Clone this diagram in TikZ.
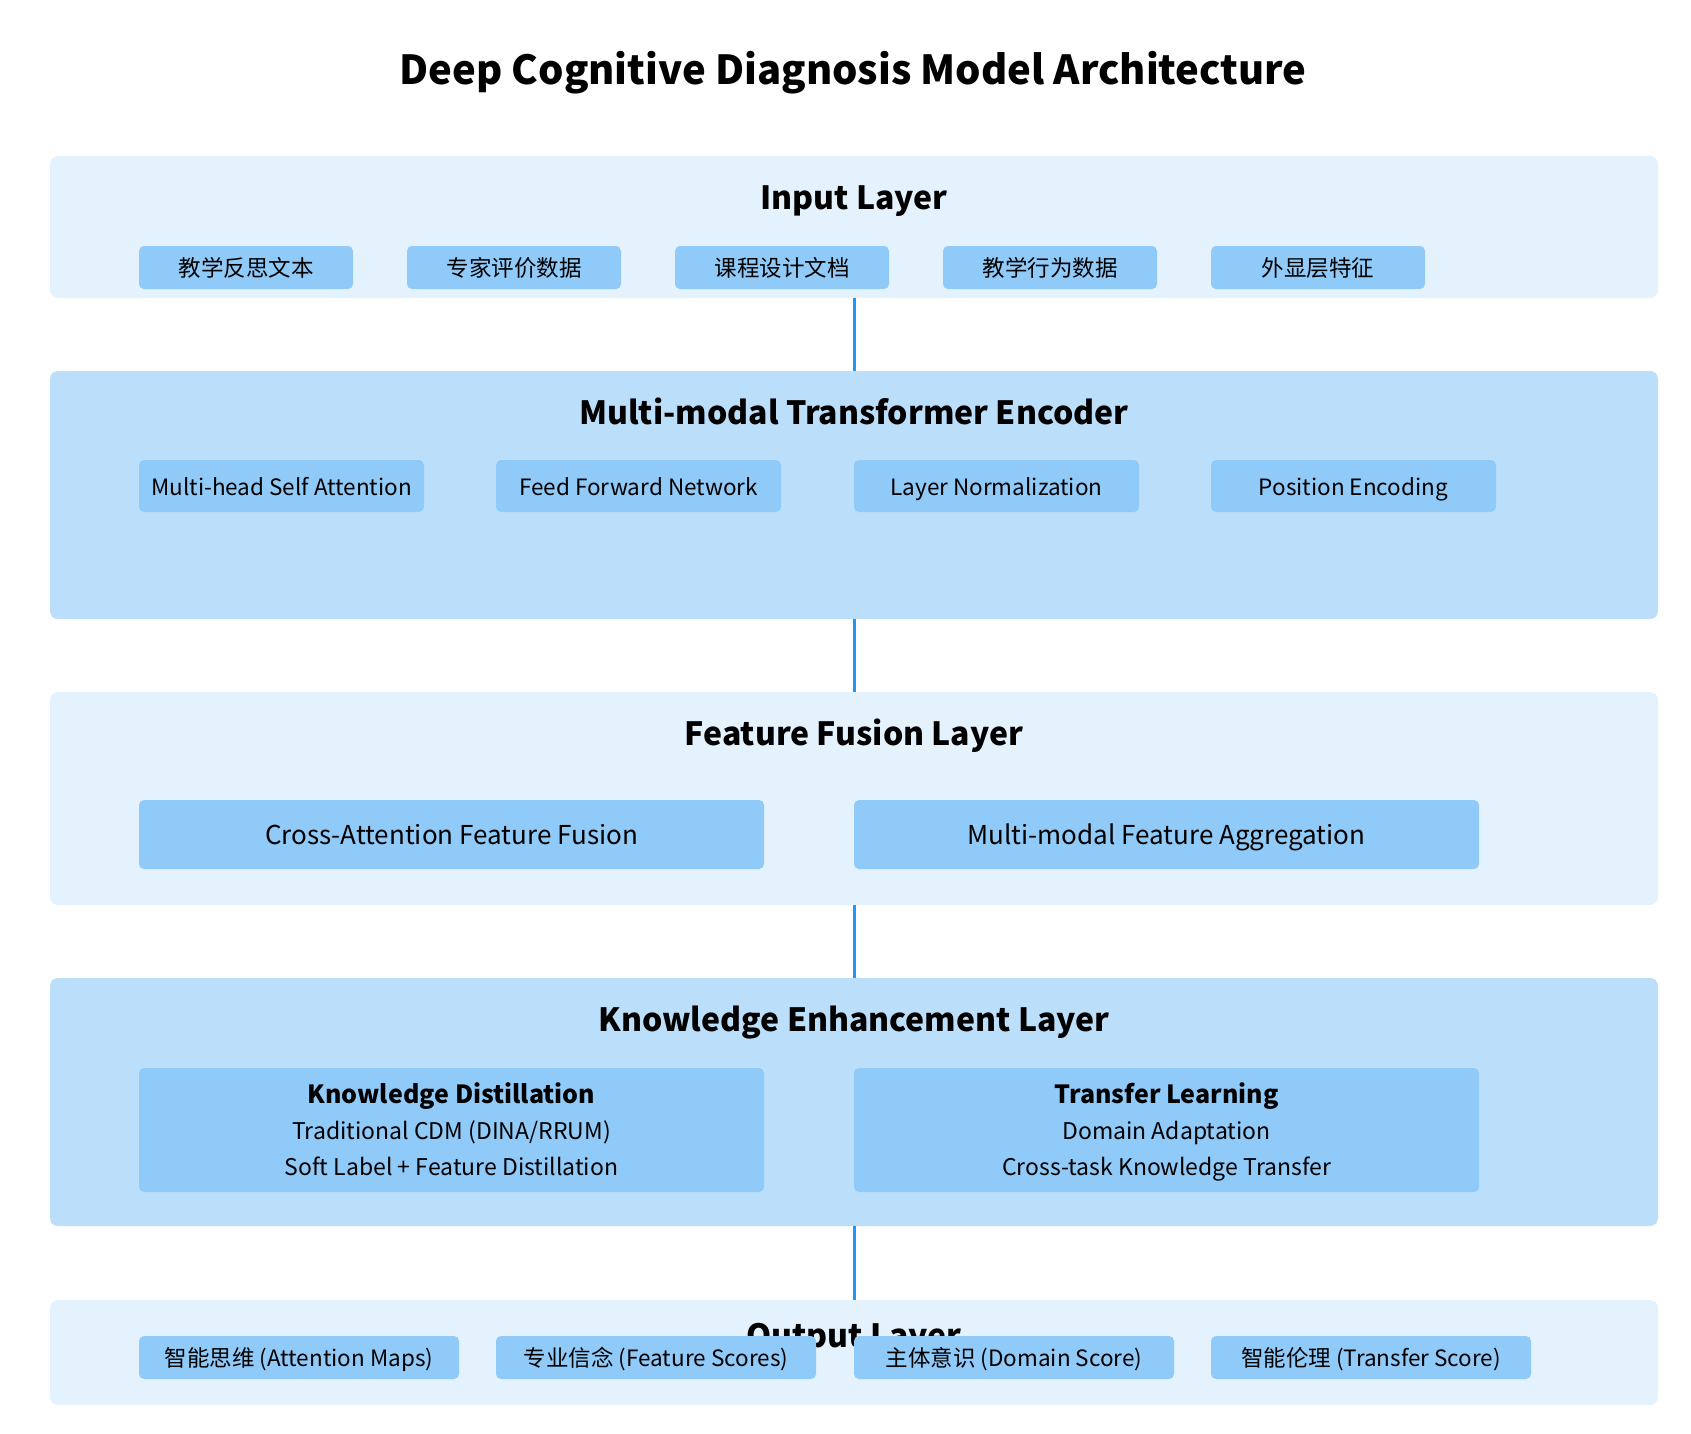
\documentclass[tikz,border=0pt]{standalone}
\usepackage{fontspec}
\setmainfont{Noto Sans CJK SC}
\usetikzlibrary{positioning}

\definecolor{paleblue}{HTML}{E3F2FD}
\definecolor{midblue}{HTML}{BBDEFB}
\definecolor{itemblue}{HTML}{90CAF9}
\definecolor{lineblue}{HTML}{2196F3}

\newcommand{\topstrut}{\rule{0pt}{30pt}}

\begin{document}
\begin{tikzpicture}[
    x=1pt, y=-1pt,
    layerpale/.style={fill=paleblue, rounded corners=8pt, minimum width=1608pt, inner sep=0pt},
    layermid/.style={fill=midblue, rounded corners=8pt, minimum width=1608pt, inner sep=0pt},
    layertitle/.style={font=\bfseries\fontsize{32}{38}\selectfont, inner sep=0pt, text height=23pt, text depth=0pt},
    itembox/.style={fill=itemblue, rounded corners=5pt, inner sep=0pt, font=\fontsize{22.5}{27}\selectfont},
    lineitem/.style={itembox, text height=19pt, text depth=1pt},
    wideitem/.style={lineitem, minimum width=625pt, font=\fontsize{26}{31}\selectfont, text height=21.5pt, text depth=2pt},
    stackitem/.style={itembox, minimum width=625pt, minimum height=124pt, align=center, font=\fontsize{23}{36}\selectfont},
    link/.style={draw=lineblue, line width=3pt}
]
\useasboundingbox (0,0) rectangle (1691,1434);

\node[font=\bfseries\fontsize{40}{48}\selectfont, inner sep=0pt, text height=29pt, text depth=0pt] (title) at (853,70) {Deep Cognitive Diagnosis Model Architecture};

% input layer
\node[layerpale, minimum height=142pt] (inputlayer) at (854,227) {};
\node[layertitle] (inputtitle) at (854,198) {Input Layer};
\node[lineitem, minimum width=214pt, minimum height=43pt] (in1) at (246,267.5) {教学反思文本};
\node[lineitem, minimum width=214pt, minimum height=43pt] (in2) at (514,267.5) {专家评价数据};
\node[lineitem, minimum width=214pt, minimum height=43pt] (in3) at (782,267.5) {课程设计文档};
\node[lineitem, minimum width=214pt, minimum height=43pt] (in4) at (1050,267.5) {教学行为数据};
\node[lineitem, minimum width=214pt, minimum height=43pt] (in5) at (1318,267.5) {外显层特征};

% transformer encoder
\node[layermid, minimum height=248pt] (encoder) at (854,495) {};
\node[layertitle] (encodertitle) at (854,413) {Multi-modal Transformer Encoder};
\node[lineitem, minimum width=285pt, minimum height=52pt] (enc1) at (281.5,486) {Multi-head Self Attention};
\node[lineitem, minimum width=285pt, minimum height=52pt] (enc2) at (638.5,486) {Feed Forward Network};
\node[lineitem, minimum width=285pt, minimum height=52pt] (enc3) at (996.5,486) {Layer Normalization};
\node[lineitem, minimum width=285pt, minimum height=52pt] (enc4) at (1353.5,486) {Position Encoding};

% feature fusion
\node[layerpale, minimum height=213pt] (fusion) at (854,798.5) {};
\node[layertitle] (fusiontitle) at (854,734) {Feature Fusion Layer};
\node[wideitem, minimum height=69pt] (fuse1) at (451.5,834.5) {Cross-Attention Feature Fusion};
\node[wideitem, minimum height=69pt] (fuse2) at (1166.5,834.5) {Multi-modal Feature Aggregation};

% knowledge enhancement
\node[layermid, minimum height=248pt] (knowledge) at (854,1102) {};
\node[layertitle] (knowledgetitle) at (854,1020) {Knowledge Enhancement Layer};
\node[stackitem] (distill) at (451.5,1130)
    {\topstrut{\bfseries\fontsize{25}{36}\selectfont Knowledge Distillation}\\Traditional CDM (DINA/RRUM)\\Soft Label + Feature Distillation\strut};
\node[stackitem] (transfer) at (1166.5,1130)
    {\topstrut{\bfseries\fontsize{25}{36}\selectfont Transfer Learning}\\Domain Adaptation\\Cross-task Knowledge Transfer\strut};

% output layer
\node[layerpale, minimum height=105pt] (output) at (854,1352.5) {};
\node[layertitle] (outputtitle) at (854,1336) {Output Layer};
\node[lineitem, minimum width=320pt, minimum height=43pt] (out1) at (299,1357.5) {智能思维 (Attention Maps)};
\node[lineitem, minimum width=320pt, minimum height=43pt] (out2) at (656,1357.5) {专业信念 (Feature Scores)};
\node[lineitem, minimum width=320pt, minimum height=43pt] (out3) at (1014,1357.5) {主体意识 (Domain Score)};
\node[lineitem, minimum width=320pt, minimum height=43pt] (out4) at (1371,1357.5) {智能伦理 (Transfer Score)};

\draw[link] (inputlayer) -- (encoder);
\draw[link] (encoder) -- (fusion);
\draw[link] (fusion) -- (knowledge);
\draw[link] (knowledge) -- (output);
\end{tikzpicture}
\end{document}
